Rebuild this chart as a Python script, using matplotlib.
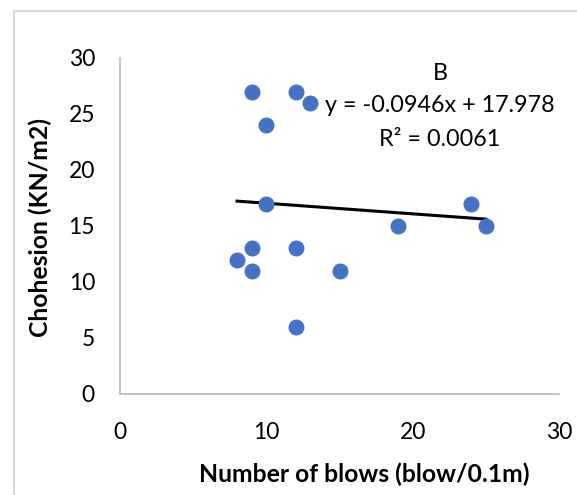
import numpy as np
import matplotlib.pyplot as plt
from matplotlib.patches import Rectangle

# data
blows = [9, 12, 13, 10, 10, 24, 19, 25, 9, 12, 8, 9, 15, 12]
cohesion = [27, 27, 26, 24, 17, 17, 15, 15, 13, 13, 12, 11, 11, 6]
slope = -0.0946
intercept = 17.978
r2 = 0.0061
x_ticks = [0, 10, 20, 30]
y_ticks = [0, 5, 10, 15, 20, 25, 30]

plt.rcParams['font.family'] = ['Lato', 'DejaVu Sans']

DPI = 100
fig = plt.figure(figsize=(577 / DPI, 495 / DPI), dpi=DPI)
ax = fig.add_axes([120 / 577, 1 - 394 / 495, (559 - 120) / 577, (394 - 58) / 495])

# chart area border
fig.patches.append(Rectangle((14 / 577, -0.1), 1.2, 1 - 11 / 495 + 0.1,
                             transform=fig.transFigure, fill=False,
                             edgecolor='#D9D9D9', linewidth=1.5))

ax.plot(blows, cohesion, 'o', color='#4472C4', markersize=10.5, zorder=3)

# linear trendline over the data range
xs = np.array([min(blows), max(blows)])
ax.plot(xs, slope * xs + intercept, color='black', linewidth=2.2, zorder=2)

ax.set_xlim(0, 30)
ax.set_ylim(0, 30)
ax.set_xticks(x_ticks)
ax.set_yticks(y_ticks)
ax.tick_params(length=0, labelsize=16.5)
ax.tick_params(axis='y', pad=18)
ax.tick_params(axis='x', pad=20)
for s in ['top', 'right']:
    ax.spines[s].set_visible(False)
for s in ['left', 'bottom']:
    ax.spines[s].set_color('#BFBFBF')
    ax.spines[s].set_linewidth(1.3)

fig.text(440 / 577, 1 - 74 / 495, 'B', ha='center', va='center', fontsize=16.8)
fig.text(440 / 577, 1 - 106 / 495, 'y = %.4fx + %.3f' % (slope, intercept),
         ha='center', va='center', fontsize=16.8)
fig.text(440 / 577, 1 - 139 / 495, 'R² = %.4f' % r2,
         ha='center', va='center', fontsize=16.8)

fig.text(364 / 577, 1 - 474 / 495, 'Number of blows (blow/0.1m)',
         ha='center', va='center', fontsize=17.8, fontweight='bold')
fig.text(40 / 577, 1 - 227 / 495, 'Chohesion (KN/m2)', rotation=90,
         ha='center', va='center', fontsize=17.8, fontweight='bold')

fig.savefig('out.png', dpi=DPI)
